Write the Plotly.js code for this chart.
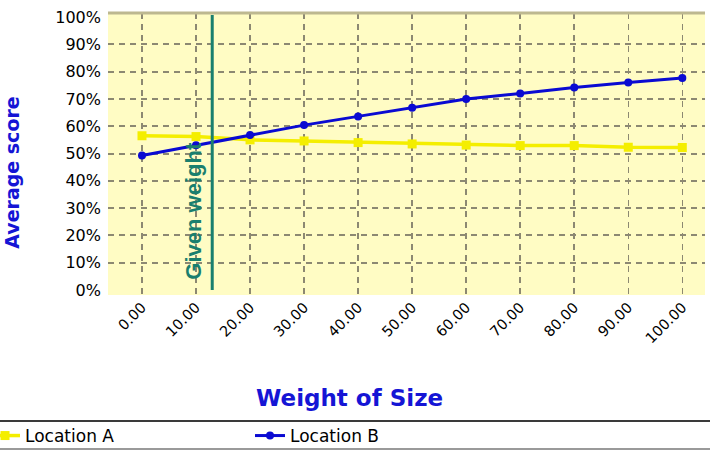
<!DOCTYPE html>
<html>
<head>
<meta charset="utf-8">
<script src="https://cdn.plot.ly/plotly-3.0.1.min.js"></script>
<style>html,body{margin:0;padding:0;background:#fff;}#chart{width:710px;height:458px;}</style>
</head>
<body>
<div id="chart"></div>
<script>
var weights = [0, 10, 20, 30, 40, 50, 60, 70, 80, 90, 100];
var tickLabels = ['0.00', '10.00', '20.00', '30.00', '40.00', '50.00', '60.00', '70.00', '80.00', '90.00', '100.00'];
var locationA = [0.565, 0.562, 0.550, 0.546, 0.540, 0.535, 0.531, 0.529, 0.529, 0.523, 0.522];
var locationB = [0.493, 0.530, 0.568, 0.604, 0.636, 0.668, 0.700, 0.720, 0.742, 0.760, 0.777];
var yTicks = [0, 0.1, 0.2, 0.3, 0.4, 0.5, 0.6, 0.7, 0.8, 0.9, 1.0];
var yGrid = [0.1, 0.2, 0.3, 0.4, 0.5, 0.6, 0.7, 0.8, 0.9];
var givenWeight = 13;
var givenWeightLabel = 'Given weight';
var xTitle = 'Weight of Size';
var yTitle = 'Average score';

var traces = [
  {
    x: weights, y: locationA, name: 'Location A', type: 'scatter', mode: 'lines+markers',
    line: {color: '#f4ee00', width: 3.5},
    marker: {color: '#f4ee00', symbol: 'square', size: 9}
  },
  {
    x: weights, y: locationB, name: 'Location B', type: 'scatter', mode: 'lines+markers',
    line: {color: '#0a0ad2', width: 3},
    marker: {color: '#0a0ad2', symbol: 'circle', size: 8}
  }
];

var gridColor = '#8c8872';
var titleBlue = '#1515d5';
var layout = {
  width: 710, height: 458,
  margin: {l: 108, r: 5, t: 13, b: 163, autoexpand: false},
  paper_bgcolor: '#ffffff',
  plot_bgcolor: '#fffcc4',
  font: {family: 'DejaVu Sans, Arial, sans-serif', color: '#000'},
  xaxis: {
    range: [-6.29, 104.2],
    tickvals: weights, ticktext: tickLabels,
    tickangle: -45,
    tickfont: {size: 14.5, color: '#000', family: 'DejaVu Sans, sans-serif'},
    showgrid: true, gridcolor: gridColor, gridwidth: 1.5, griddash: '6px,5px',
    zeroline: false, showline: false, ticks: ''
  },
  yaxis: {
    range: [-0.0183, 1.0147],
    tickvals: yTicks, tickformat: '.0%',
    tickfont: {size: 16, color: '#000', family: 'DejaVu Sans, sans-serif'},
    showgrid: false,
    minor: {tickvals: yGrid, showgrid: true, gridcolor: gridColor, gridwidth: 2, griddash: '6px,5px', ticks: ''},
    zeroline: false, showline: false, ticks: '',
    ticklabelstandoff: 6
  },
  showlegend: true,
  legend: {
    orientation: 'h', x: -0.206, xanchor: 'left', y: -0.5, yanchor: 'middle',
    entrywidth: 220, entrywidthmode: 'pixels',
    font: {size: 17, color: '#000', family: 'DejaVu Sans, sans-serif'},
    bgcolor: 'rgba(0,0,0,0)', borderwidth: 0
  },
  shapes: [
    {type: 'line', xref: 'x', yref: 'y', x0: givenWeight, x1: givenWeight, y0: 0, y1: 1.007,
     line: {color: '#1a7f6e', width: 3}},
    {type: 'line', xref: 'paper', yref: 'paper', x0: 0, x1: 1, y0: 1, y1: 1,
     line: {color: '#bdb890', width: 3}},
    {type: 'line', xref: 'paper', yref: 'paper', x0: -0.19, x1: 1.01, y0: -0.447, y1: -0.447,
     line: {color: '#3a3a3a', width: 2}},
    {type: 'line', xref: 'paper', yref: 'paper', x0: -0.19, x1: 1.01, y0: -0.546, y1: -0.546,
     line: {color: '#9a9a9a', width: 2}}
  ],
  annotations: [
    {x: 9.6, y: 0.29, xref: 'x', yref: 'y', text: givenWeightLabel, textangle: -90, showarrow: false,
     xanchor: 'center', yanchor: 'middle',
     font: {family: 'Arial, Liberation Sans, sans-serif', size: 22, color: '#1a7f6e', weight: 'bold'}},
    {x: 0.405, y: -0.366, xref: 'paper', yref: 'paper', text: xTitle, showarrow: false,
     xanchor: 'center', yanchor: 'middle',
     font: {family: 'DejaVu Sans, sans-serif', size: 23, color: titleBlue, weight: 'bold'}},
    {x: -0.161, y: 0.433, xref: 'paper', yref: 'paper', text: yTitle, textangle: -90, showarrow: false,
     xanchor: 'center', yanchor: 'middle',
     font: {family: 'DejaVu Sans, sans-serif', size: 19, color: titleBlue, weight: 'bold'}}
  ]
};

Plotly.newPlot('chart', traces, layout, {displayModeBar: false, staticPlot: true});
</script>
</body>
</html>
